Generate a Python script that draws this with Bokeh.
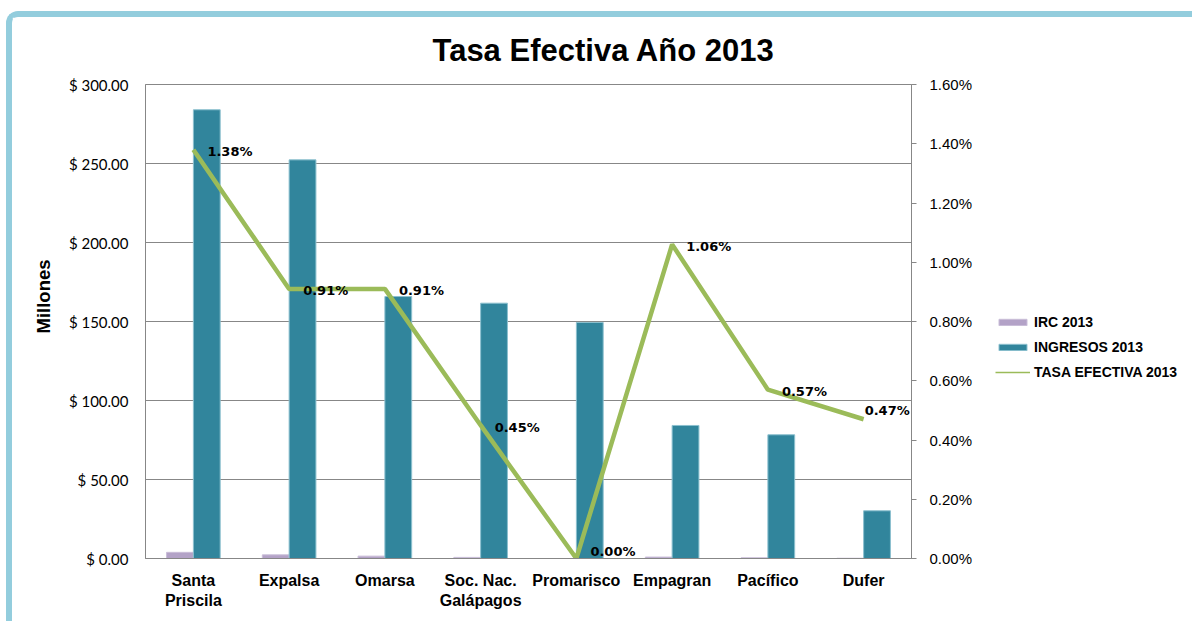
from bokeh.plotting import figure
from bokeh.layouts import row
from bokeh.models import (Range1d, LinearAxis, FixedTicker,
                          ColumnDataSource, LabelSet, Legend, LegendItem, Title,
                          NumeralTickFormatter, PrintfTickFormatter)
from bokeh.core.properties import value
from bokeh.transform import dodge
from bokeh.embed import file_html
from bokeh.resources import INLINE

# ---------------- data ----------------
CATS = ["Santa Priscila", "Expalsa", "Omarsa", "Soc. Nac. Galápagos",
        "Promarisco", "Empagran", "Pacífico", "Dufer"]
CAT_LINE1 = ["Santa", "Expalsa", "Omarsa", "Soc. Nac.",
             "Promarisco", "Empagran", "Pacífico", "Dufer"]
CAT_LINE2 = ["Priscila", "", "", "Galápagos", "", "", "", ""]
IRC = [3.9, 2.3, 1.5, 0.7, 0.0, 0.9, 0.45, 0.15]                  # millones
INGRESOS = [284.0, 252.3, 165.8, 161.6, 149.4, 84.2, 78.3, 30.2]   # millones
TASA = [0.0138, 0.0091, 0.0091, 0.0045, 0.0, 0.0106, 0.0057, 0.0047]
LEFT_TICKS = [0, 50, 100, 150, 200, 250, 300]
RIGHT_TICKS = [0.0, 0.002, 0.004, 0.006, 0.008, 0.010, 0.012, 0.014, 0.016]
SERIES = ["IRC 2013", "INGRESOS 2013", "TASA EFECTIVA 2013"]
TITLE = "Tasa Efectiva Año 2013"
Y_LABEL = "Millones"

C_IRC = "#B3A2C7"
C_ING = "#31859C"
C_TASA = "#9BBB59"
C_GRID = "#878787"
C_FRAME = "#93CDDD"

N = len(CATS)
X_POS = [i + 0.5 for i in range(N)]   # category slot centres

# label offsets (style only)
LBL_DX = [14] * (N - 1) + [1]
LBL_DY = [-2 if v > 0 else 7 for v in TASA[:-1]] + [9]

src = ColumnDataSource(dict(xc=X_POS, cat=CATS, irc=IRC, ing=INGRESOS, tasa=TASA,
                            lbl=[f"{v * 100:.2f}%" for v in TASA], dx=LBL_DX, dy=LBL_DY))

H = 604
W_MAIN, W_LEG = 969, 211
FL, FR, FT, FB = 133, 899, 67, 541   # frame edges in canvas px of the main figure

p = figure(width=W_MAIN, height=H, x_range=Range1d(0, N), y_range=Range1d(0, 300),
           output_backend="svg", toolbar_location=None,
           min_border_left=FL, min_border_right=W_MAIN - FR, min_border_top=FT,
           min_border_bottom=H - FB)
p.extra_y_ranges = {"pct": Range1d(0, 0.016)}
p.background_fill_color = "white"
p.border_fill_color = "white"
p.outline_line_color = C_GRID

# title
p.title.text = TITLE
p.title.align = "left"
p.title.vertical_align = "top"
p.title.offset = 287
p.title.standoff = 29
p.title.text_font = "Liberation Sans"
p.title.text_font_style = "bold"
p.title.text_font_size = "31px"
p.title.text_color = "black"

p.xgrid.grid_line_color = None
p.ygrid.ticker = FixedTicker(ticks=LEFT_TICKS)
p.ygrid.grid_line_color = C_GRID
p.ygrid.grid_line_width = 1

# left axis
ya = p.yaxis[0]
ya.ticker = FixedTicker(ticks=LEFT_TICKS)
ya.formatter = PrintfTickFormatter(format="$ %.2f")
ya.axis_line_color = C_GRID
ya.major_tick_in = 0
ya.major_tick_out = 0
ya.minor_tick_line_color = None
ya.major_label_standoff = 17
ya.major_label_text_font = "Lato"
ya.major_label_text_font_size = "15px"
ya.major_label_text_color = "black"

p.add_layout(Title(text=Y_LABEL, align="left", offset=225, standoff=23,
                   text_font="Liberation Sans", text_font_style="bold",
                   text_font_size="18.5px", text_color="black"), "left")


def style_x_axis(ax, lines, standoff, line_color):
    ax.ticker = FixedTicker(ticks=X_POS)
    ax.major_label_overrides = dict(zip(X_POS, lines))
    ax.axis_line_color = line_color
    ax.major_tick_line_color = None
    ax.major_tick_in = 0
    ax.major_tick_out = 0
    ax.minor_tick_line_color = None
    ax.major_label_standoff = standoff
    ax.major_label_text_font = "Liberation Sans"
    ax.major_label_text_font_style = "bold"
    ax.major_label_text_font_size = "16px"
    ax.major_label_text_color = "black"


# two label lines for the categories
style_x_axis(p.xaxis[0], CAT_LINE1, 13, C_GRID)
xa2 = LinearAxis()
style_x_axis(xa2, CAT_LINE2, 0, None)
p.add_layout(xa2, "below")

# right axis
ra = LinearAxis(y_range_name="pct", ticker=FixedTicker(ticks=RIGHT_TICKS),
                formatter=NumeralTickFormatter(format="0.00%"))
ra.axis_line_color = C_GRID
ra.major_tick_line_color = C_GRID
ra.major_tick_in = 0
ra.major_tick_out = 5
ra.minor_tick_line_color = None
ra.major_label_standoff = 13
ra.major_label_text_font = "Liberation Sans"
ra.major_label_text_font_size = "15px"
ra.major_label_text_color = "black"
p.add_layout(ra, "right")

# bars
p.vbar(x=dodge("xc", -0.14), top="irc", width=0.28, source=src,
       fill_color=C_IRC, line_color="#c9bdd8", line_width=1)
p.vbar(x=dodge("xc", 0.14), top="ing", width=0.28, source=src,
       fill_color=C_ING, line_color="#8cc0cf", line_width=1)

# line
p.line(x="xc", y="tasa", y_range_name="pct", source=src, line_color=C_TASA, line_width=4.5)

labels = LabelSet(x="xc", y="tasa", y_range_name="pct", text="lbl", source=src,
                  x_offset="dx", y_offset="dy", text_align="left", text_baseline="middle",
                  text_font=value("DejaVu Sans"), text_font_style="bold",
                  text_font_size="13px", text_color="black")
p.add_layout(labels)

# ---------------- legend panel (separate figure to the right) ----------------
q = figure(width=W_LEG, height=H, x_range=Range1d(100, 101), y_range=Range1d(100, 101),
           output_backend="svg", toolbar_location=None, x_axis_type=None, y_axis_type=None,
           min_border=0)
q.outline_line_color = None
q.outline_line_alpha = 0
q.background_fill_color = "white"
q.border_fill_color = "white"
q.grid.visible = False
# same series, not drawn in q: only their legend swatches show
l_irc = q.vbar(x="xc", top="irc", width=0.28, source=src, fill_color=C_IRC,
               line_color="#c9bdd8", line_width=1, visible=False)
l_ing = q.vbar(x="xc", top="ing", width=0.28, source=src, fill_color=C_ING,
               line_color="#8cc0cf", line_width=1, visible=False)
l_tasa = q.line(x="xc", y="tasa", source=src, line_color=C_TASA, line_width=1.5,
                visible=False)

legend = Legend(items=[LegendItem(label=SERIES[0], renderers=[l_irc]),
                       LegendItem(label=SERIES[1], renderers=[l_ing]),
                       LegendItem(label=SERIES[2], renderers=[l_tasa])],
                location=(14, 178), glyph_width=35, glyph_height=8, label_height=17,
                spacing=8, padding=0, margin=0, label_standoff=4,
                inactive_fill_alpha=0,
                border_line_color=None, background_fill_alpha=0,
                label_text_font="Liberation Sans", label_text_font_style="bold",
                label_text_font_size="14px", label_text_color="black")
q.add_layout(legend)

layout = row(p, q, styles={"border-top": f"6px solid {C_FRAME}",
                           "border-left": f"6px solid {C_FRAME}",
                           "border-top-left-radius": "12px",
                           "margin-left": "6px", "margin-top": "11px"})

open("out.html", "w").write(file_html(layout, INLINE))
